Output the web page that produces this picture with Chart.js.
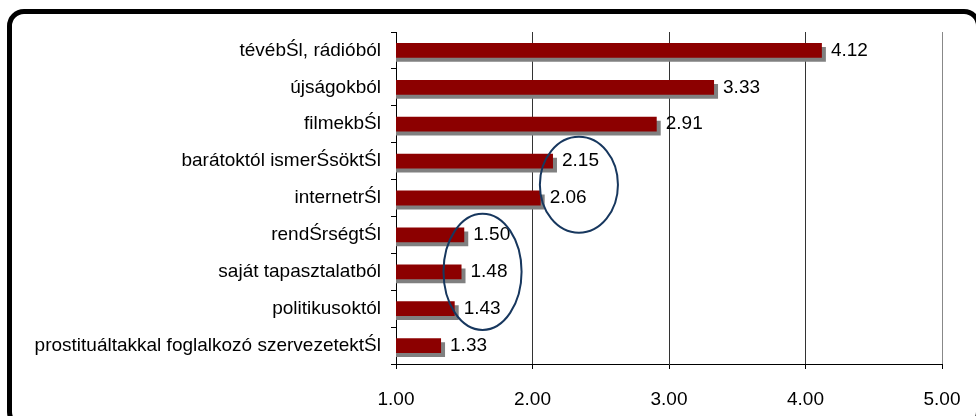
<!DOCTYPE html>
<html>
<head>
<meta charset="utf-8">
<script src="https://cdn.jsdelivr.net/npm/chart.js@4.4.1/dist/chart.umd.min.js"></script>
<style>
  html, body { margin: 0; padding: 0; background: #fff; overflow: hidden; }
  #wrap { position: relative; width: 976px; height: 416px; overflow: hidden; }
  #frame {
    position: absolute; left: 7px; top: 9px; width: 974px; height: 420px;
    box-sizing: border-box; border: 5px solid #000; border-radius: 17px;
    pointer-events: none;
  }
  canvas { position: absolute; left: 0; top: 0; }
</style>
</head>
<body>
<div id="wrap">
  <canvas id="chart" width="976" height="416"></canvas>
  <div id="frame"></div>
</div>
<script>
const categories = [
    'tévébŚl, rádióból',
    'újságokból',
    'filmekbŚl',
    'barátoktól ismerŚsöktŚl',
    'internetrŚl',
    'rendŚrségtŚl',
    'saját tapasztalatból',
    'politikusoktól',
    'prostituáltakkal foglalkozó szervezetektŚl'
];
const values = [4.12, 3.33, 2.91, 2.15, 2.06, 1.50, 1.48, 1.43, 1.33];
const xTickLabels = ['1.00', '2.00', '3.00', '4.00', '5.00'];

// rings drawn round groups of bars, in axis units (x value, category index)
const rings = [
    { x: 2.34, y: 3.64, rx: 0.286, ry: 1.30 },
    { x: 1.634, y: 6.0, rx: 0.286, ry: 1.576 }
];

Chart.defaults.font.family = '"Liberation Sans", Arial, sans-serif';
Chart.defaults.font.size = 19;
Chart.defaults.color = '#000';

const barShadow = {
    id: 'barShadow',
    beforeDatasetsDraw(chart) {
        const ctx = chart.ctx;
        ctx.save();
        ctx.shadowColor = '#808080';
        ctx.shadowOffsetX = 4;
        ctx.shadowOffsetY = 4;
        ctx.shadowBlur = 0;
    },
    afterDatasetsDraw(chart) {
        chart.ctx.restore();
    }
};

const valueLabels = {
    id: 'valueLabels',
    afterDatasetsDraw(chart) {
        const ctx = chart.ctx;
        const meta = chart.getDatasetMeta(0);
        ctx.save();
        ctx.font = '19px "Liberation Sans", Arial, sans-serif';
        ctx.fillStyle = '#000';
        ctx.textAlign = 'left';
        ctx.textBaseline = 'middle';
        meta.data.forEach((bar, i) => {
            ctx.fillText(values[i].toFixed(2), bar.x + 9, bar.y);
        });
        ctx.restore();
    }
};

const ringPlugin = {
    id: 'rings',
    afterDraw(chart) {
        const ctx = chart.ctx;
        const xs = chart.scales.x;
        const ys = chart.scales.y;
        const rowH = ys.getPixelForValue(1) - ys.getPixelForValue(0);
        ctx.save();
        ctx.strokeStyle = '#17375e';
        ctx.lineWidth = 2;
        rings.forEach(r => {
            const cx = xs.getPixelForValue(r.x);
            const cy = ys.getPixelForValue(r.y);
            const rx = xs.getPixelForValue(r.x + r.rx) - cx;
            ctx.beginPath();
            ctx.ellipse(cx, cy, rx, r.ry * rowH, 0, 0, Math.PI * 2);
            ctx.stroke();
        });
        ctx.restore();
    }
};

new Chart(document.getElementById('chart'), {
    type: 'bar',
    data: {
        labels: categories,
        datasets: [{
            data: values,
            backgroundColor: '#8c0000',
            borderWidth: 0,
            barPercentage: 0.4,
            categoryPercentage: 1.0
        }]
    },
    options: {
        indexAxis: 'y',
        responsive: false,
        animation: false,
        layout: { padding: { left: 0, top: 32, right: 34, bottom: 0 } },
        plugins: { legend: { display: false }, tooltip: { enabled: false } },
        scales: {
            x: {
                min: 1,
                max: 5,
                ticks: {
                    stepSize: 1,
                    padding: 19,
                    callback: (v, i) => xTickLabels[i]
                },
                grid: {
                    color: ctx => ctx.tick && ctx.tick.value === 5 ? '#888' : '#333',
                    tickColor: '#000',
                    tickLength: 5
                },
                border: { color: '#000', width: 1 },
                afterFit(scale) {
                    scale.height = 52;
                    scale.paddingLeft = 0;
                    scale.paddingRight = 0;
                }
            },
            y: {
                ticks: { padding: 10 },
                grid: {
                    offset: true,
                    drawOnChartArea: false,
                    tickColor: '#000',
                    tickLength: 5
                },
                border: { color: '#000', width: 1 },
                afterFit(scale) { scale.width = 396; }
            }
        }
    },
    plugins: [barShadow, valueLabels, ringPlugin]
});
</script>
</body>
</html>
